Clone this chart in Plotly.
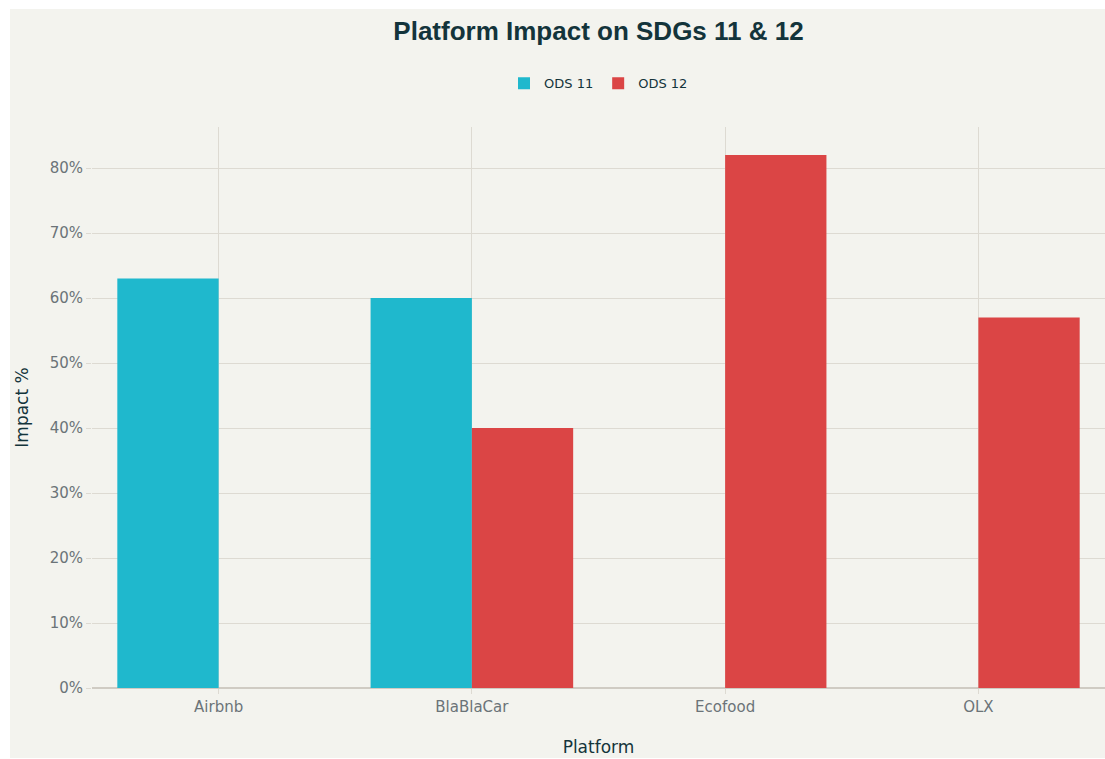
import plotly.graph_objects as go

platforms = ["Airbnb", "BlaBlaCar", "Ecofood", "OLX"]
ods11 = [63, 60, 0, 0]
ods12 = [0, 40, 82, 57]
series_names = ["ODS 11", "ODS 12"]
tick_vals = [0, 10, 20, 30, 40, 50, 60, 70, 80]
tick_text = ["0%", "10%", "20%", "30%", "40%", "50%", "60%", "70%", "80%"]

BG = "#F3F3EE"
FONT = "DejaVu Sans, sans-serif"
TFONT = "Liberation Sans, Arial, sans-serif"

fig = go.Figure()
fig.add_trace(go.Bar(name=series_names[0], x=platforms, y=ods11, marker_color="#1FB8CD",
                     marker_line_width=0))
fig.add_trace(go.Bar(name=series_names[1], x=platforms, y=ods12, marker_color="#DB4545",
                     marker_line_width=0))

fig.update_layout(
    width=1105, height=759,
    barmode="group", bargap=0.2, bargroupgap=0,
    paper_bgcolor="white", plot_bgcolor=BG,
    margin=dict(l=92, r=0, t=127, b=71),
    font=dict(family=FONT, color="#13343B"),
    title=dict(text="<b>Platform Impact on SDGs 11 & 12</b>", x=0.5, xref="paper",
               xanchor="center", y=1 - 31 / 759, yanchor="middle",
               font=dict(size=26, color="#13343B", family=TFONT)),
    legend=dict(orientation="h", x=0.5, xanchor="center", y=1.078, yanchor="middle",
                bgcolor="rgba(0,0,0,0)", font=dict(size=13, color="#13343B")),
    shapes=[dict(type="rect", xref="paper", yref="paper", layer="below",
                 x0=-82 / 1013, x1=1.0, y0=-70 / 561, y1=679 / 561,
                 fillcolor=BG, line_width=0)],
)
fig.update_xaxes(title=dict(text="Platform", font=dict(size=17, color="#13343B"), standoff=26),
                 showgrid=True, gridcolor="#DDDAD2", gridwidth=1,
                 ticks="outside", ticklen=5, tickcolor="#DDDAD2",
                 tickfont=dict(size=15, color="#6B7378"), showline=False)
fig.update_yaxes(title=dict(text="Impact %", font=dict(size=17, color="#13343B"), standoff=16),
                 tickvals=tick_vals, ticktext=tick_text,
                 showgrid=True, gridcolor="#DDDAD2", gridwidth=1,
                 zeroline=True, zerolinecolor="#CFCBC3", zerolinewidth=1.5,
                 ticks="outside", ticklen=5, tickcolor="#DDDAD2",
                 tickfont=dict(size=15, color="#6B7378"))

fig.write_html("out.html")
